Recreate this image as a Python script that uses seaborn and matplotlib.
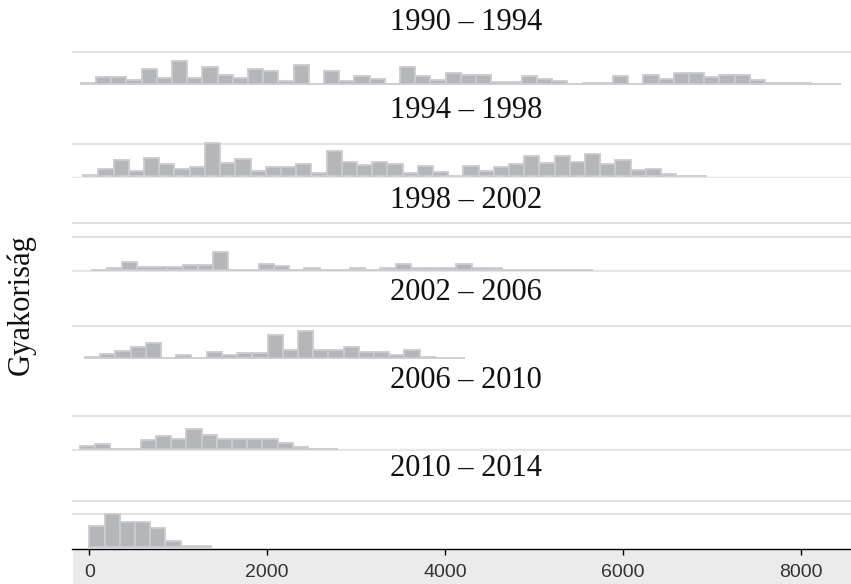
import numpy as np
import pandas as pd
import matplotlib
matplotlib.use("Agg")
import matplotlib.pyplot as plt
from matplotlib.patches import Rectangle
import seaborn as sns

# ---------------- data ----------------
periods = ["1990 – 1994", "1994 – 1998", "1998 – 2002",
           "2002 – 2006", "2006 – 2010", "2010 – 2014"]
bin_width = 171
bin_starts = [-97, -68, 24, -48, -105, 0]

h_1990 = [1.3, 7, 7, 4.3, 14.7, 6.3, 22.7, 6.3, 17, 9.3, 6.3, 14.7, 13, 2.7, 19.3,
          0, 13, 2.7, 7.7, 5.3, 0, 17, 7.7, 4.3, 11.3, 9.3, 9.3, 2.3, 2.3, 7.7,
          5.3, 3, 0, 1.3, 1.3, 7.7, 0, 9.3, 4.7, 11.3, 11.3, 7, 9.3, 9.3, 3.7,
          1.3, 1.3, 1.3, 0, 0]
h_1994 = [1, 7.3, 15.7, 5, 17.7, 11.7, 6.7, 9.3, 33.3, 12.7, 17.3, 5, 9, 9, 11.7,
          3.3, 25.3, 13.7, 11, 13.7, 12, 3.3, 10, 3.7, 0, 9.7, 5, 9, 11.7, 19.7,
          13.3, 19.7, 14.3, 21.7, 12.3, 15.7, 6.3, 6.7, 2, 0, 0]
h_1998 = [0, 1.4, 7.9, 2.1, 2.1, 2.1, 5, 4.3, 17.9, 0, 0, 5.4, 3.2, 0, 1.4, 0, 0,
          1.4, 0, 1.8, 5.4, 1.8, 1.8, 1.8, 5.4, 1.8, 1.8, 0, 0, 0, 0, 0, 0]
h_2002 = [0.7, 4.3, 7.3, 11, 15, 0, 3.3, 0, 5.7, 2.7, 4.7, 4.7, 22.7, 8, 26.7, 8,
          8, 11.3, 6, 6, 2.7, 7.7, 1, 0, 0]
h_2006 = [2.5, 4.5, 0, 0, 8.2, 12.2, 9.5, 19.8, 13.8, 9.5, 9.5, 9.5, 10, 6, 2, 0, 0]
h_2010 = [21, 32.7, 25, 25, 19, 6, 0.5, 0.5]
heights = [h_1990, h_1994, h_1998, h_2002, h_2006, h_2010]

x_ticks = [0, 2000, 4000, 6000, 8000]
y_label = "Gyakoriság"

# ---------------- layout ----------------
sns.set_theme(style="white")
plt.rcParams['font.family'] = ['Liberation Sans', 'DejaVu Sans']

W, H = 851, 584
fig = plt.figure(figsize=(W / 100, H / 100), dpi=100)

PX0, PX_PER = 89.3, 0.08893
left_px, right_px = 72, 851
xlim = ((left_px - PX0) / PX_PER, (right_px - PX0) / PX_PER)

baselines = [84, 176, 269.5, 358, 448.5, 546.5]
title_base = [30, 118, 208, 300, 388, 476]
AX_LO, AX_HI = -2.0, 50.0
top_line = 32.5
full_base = [False, True, True, False, True, False]
extra_line = [None, None, 46.2, None, None, 45.5]

bar_face = "#b5b6ba"
bar_edge = "#cbcccf"
grid_col = "#e2e2e2"

# grey band under the x axis
fig.add_artist(Rectangle((73 / W, 0), (W - 73) / W, (H - 548.5) / H,
                         transform=fig.transFigure, facecolor="#ebebeb",
                         edgecolor="none", zorder=-5))

axes = []
for i, (per, hts, st) in enumerate(zip(periods, heights, bin_starts)):
    bottom_px = baselines[i] - AX_LO
    ax = fig.add_axes([left_px / W, (H - bottom_px) / H,
                       (right_px - left_px) / W, (AX_HI - AX_LO) / H])
    ax.set_facecolor("none")
    edges = [float(st + bin_width * k) for k in range(len(hts) + 1)]
    centers = [e + bin_width / 2 for e in edges[:-1]]
    df = pd.DataFrame({"value": centers, "count": np.asarray(hts, dtype=float)})
    sns.histplot(data=df, x="value", weights="count", bins=edges, ax=ax,
                 color=bar_face, edgecolor=bar_edge, linewidth=1.3, alpha=1,
                 zorder=3)
    ax.set_xlim(xlim)
    ax.set_ylim(AX_LO, AX_HI)
    ax.set_yticks([])
    ax.set_ylabel("")
    ax.set_xlabel("")
    ax.axhline(top_line, color=grid_col, lw=1.5, zorder=0)
    if full_base[i]:
        ax.axhline(-1.5, color="#e6e6e6", lw=2.5, zorder=0)
    if extra_line[i] is not None:
        ax.axhline(extra_line[i], color="#dcdcdc", lw=1.3, zorder=0)
    for s in ax.spines.values():
        s.set_visible(False)
    if i < len(periods) - 1:
        ax.set_xticks([])
    else:
        ax.spines["bottom"].set_visible(True)
        ax.spines["bottom"].set_color("black")
        ax.spines["bottom"].set_linewidth(1.0)
        ax.set_xticks(x_ticks)
        ax.set_xticklabels([str(t) for t in x_ticks])
        ax.tick_params(axis="x", bottom=True, direction="out", length=4,
                       width=1, color="black", labelsize=14, pad=7,
                       labelcolor="#333333")
    fig.text(466 / W, 1 - title_base[i] / H, per, ha="center", va="baseline",
             fontsize=22, family=["Liberation Serif", "DejaVu Serif"],
             color="#111111")
    axes.append(ax)

fig.text(21 / W, 1 - 305 / H, y_label, rotation=90, ha="center", va="center",
         fontsize=22, family=["Liberation Serif", "DejaVu Serif"], color="#111111")

fig.savefig("out.png", dpi=100, facecolor="white")
